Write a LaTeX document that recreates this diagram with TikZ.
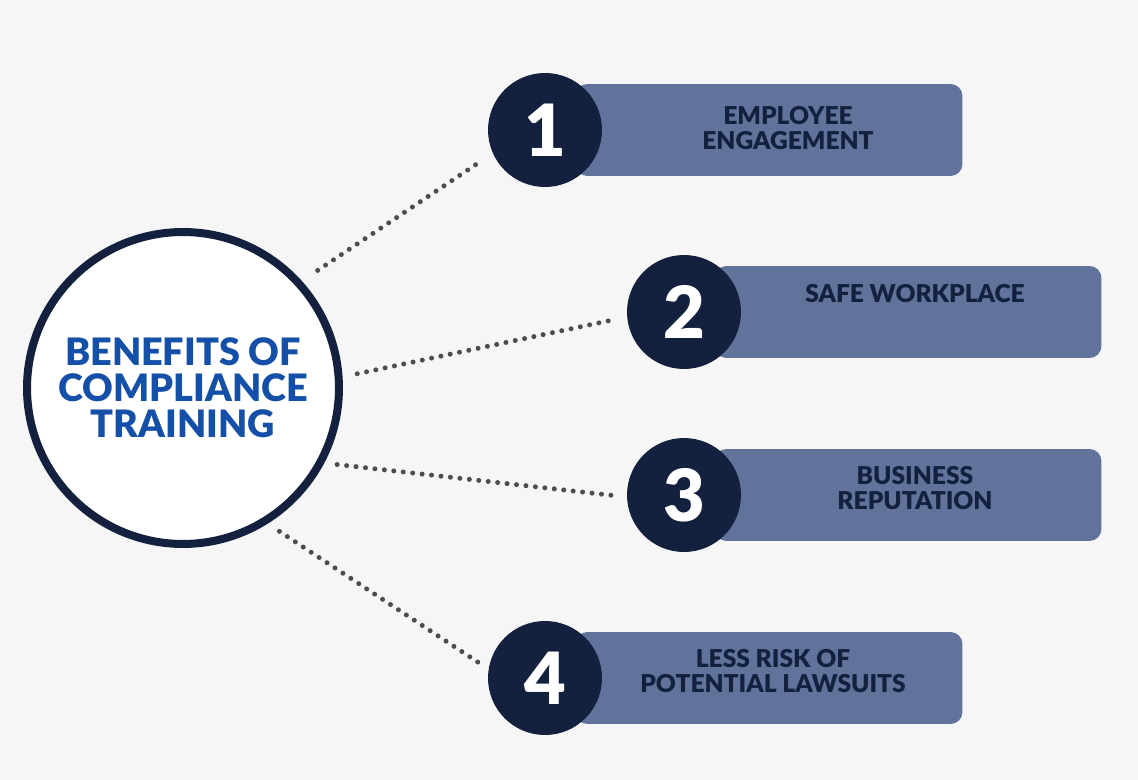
\documentclass[tikz,border=0pt]{standalone}
\usepackage{fontspec}
\setmainfont{Lato}[BoldFont={Lato Black}]
\definecolor{bgcol}{HTML}{F6F6F6}
\definecolor{navy}{HTML}{13213F}
\definecolor{barcol}{HTML}{61739B}
\definecolor{titleblue}{HTML}{1550A8}
\definecolor{dotcol}{HTML}{4D4D4D}
\begin{document}
\begin{tikzpicture}[x=0.02cm,y=-0.02cm,
    hub/.style={circle,draw=navy,line width=0.16cm,fill=white,minimum size=6.24cm,inner sep=0pt,
        align=center,text=titleblue,font=\fontsize{21.5}{20.4}\selectfont\bfseries},
    numdisc/.style={circle,fill=navy,minimum size=2.28cm,inner sep=0pt,text=white,
        font=\fontsize{41}{41}\selectfont\bfseries},
    bar/.style={rectangle,rounded corners=0.24cm,fill=barcol,minimum width=7.74cm,minimum height=1.84cm},
    itemtext/.style={align=center,text=navy,font=\fontsize{14}{14}\selectfont\bfseries},
    dots/.style={draw=dotcol,line width=0.1cm,line cap=round,dash pattern=on 0pt off 0.19cm}]
    \fill[bgcol] (0,0) rectangle (1138,780);
    % centre circle
    \node[hub] (hub) at (183,388) {BENEFITS OF\\COMPLIANCE\\TRAINING};
    % numbered bars
    \foreach \n/\x/\y in {1/545/130,2/684/312,3/684/495,4/545/678} {
        \node[bar] (bar\n) at (\x+224,\y) {};
        \node[numdisc] (num\n) at (\x,\y) {\n};
    }
    \node[itemtext] (txt1) at (788,128) {EMPLOYEE\\ENGAGEMENT};
    \node[itemtext] (txt2) at (915,294) {SAFE WORKPLACE};
    \node[itemtext] (txt3) at (915,488) {BUSINESS\\REPUTATION};
    \node[itemtext] (txt4) at (773,671) {LESS RISK OF\\POTENTIAL LAWSUITS};
    % dotted connectors
    \foreach \n/\a/\b/\s/\e in {1/42/204/0.38cm/0.34cm,2/4/185/0.3cm/0.2cm,
        3/-28/182/0.26cm/0.14cm,4/-58/171/0.28cm/0.18cm}
        \draw[dots,shorten <=\s,shorten >=\e] (hub.\a) -- (num\n.\b);
\end{tikzpicture}
\end{document}
